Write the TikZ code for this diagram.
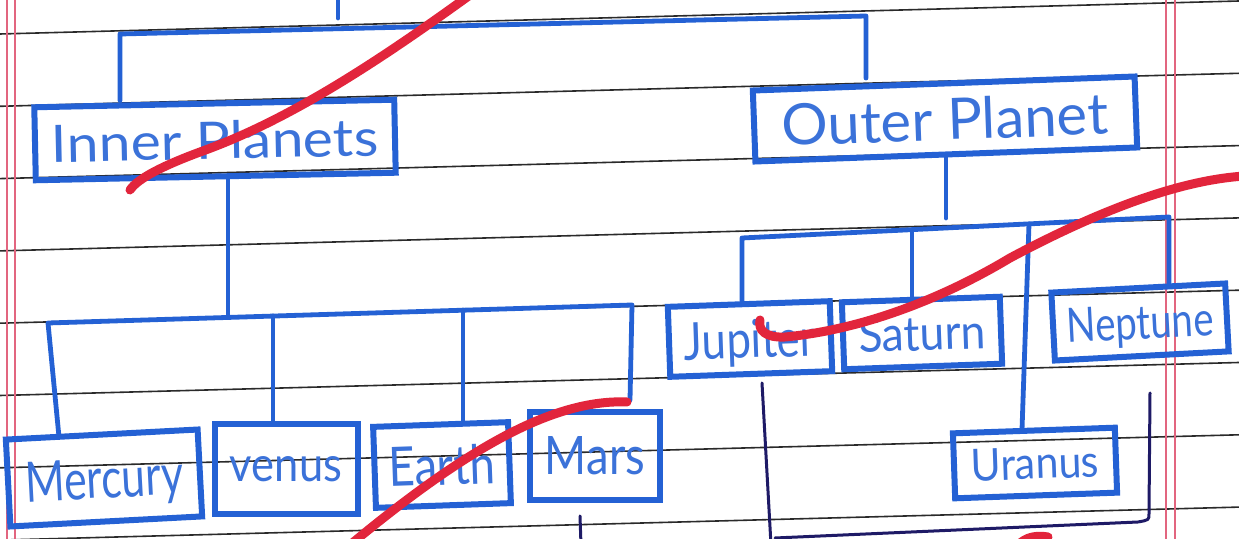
\documentclass[tikz,border=0pt]{standalone}
\usepackage{fontspec}
\setmainfont{Lato}
\usepackage{graphicx}
\definecolor{penblue}{HTML}{2461D4}
\definecolor{inkblue}{HTML}{3B72D9}
\definecolor{navy}{HTML}{1E1A66}
\definecolor{redpen}{HTML}{E2253C}
\definecolor{rule}{HTML}{2A2A2A}
\definecolor{margin}{HTML}{E2657F}
\newlength\upx
\setlength\upx{0.5pt}
\newcommand\hw[3]{\raisebox{0pt}[\height][0pt]{\resizebox{#1\upx}{#2\upx}{#3}}}
\tikzset{
  box/.style={draw=penblue, line width=3pt, rectangle, inner sep=0pt, text=inkblue},
  conn/.style={draw=penblue, line width=2.4pt, line cap=round, line join=round},
  bracket/.style={draw=navy, line width=1.5pt, line cap=round, line join=round},
  redstroke/.style={draw=redpen, line width=4.5pt, line cap=round, line join=round},
  ruling/.style={draw=rule, line width=0.8pt},
  marginline/.style={draw=margin, line width=0.6pt}
}
\begin{document}
\begin{tikzpicture}[x=0.5pt,y=-0.5pt]
\useasboundingbox (0,0) rectangle (1239,539);
\clip (0,0) rectangle (1239,539);
\fill[white] (0,0) rectangle (1239,539);
% ruled paper
\foreach \k in {0,...,7}{
  \draw[ruling] (0,{34+72.3*\k}) -- (1239,{1+72.3*\k});
}
\draw[marginline] (7,0) -- (7,539);
\draw[marginline] (15,0) -- (15,539);
\draw[marginline] (1166,0) -- (1166,539);
\draw[marginline] (1175,0) -- (1175,539);

% boxes
\node[box, minimum width=180pt, minimum height=36.5pt, rotate=1.2] (IP) at (215,140) {\hw{327}{38}{Inner Planets}};
\node[box, minimum width=191pt, minimum height=35.5pt, rotate=2.1] (OP) at (945,119) {\hw{326}{42}{Outer Planet}};
\node[box, minimum width=96pt, minimum height=43.5pt, rotate=3] (Me) at (104,478) {\raisebox{-6\upx}{\hw{158}{40}{Mercury}}};
\node[box, minimum width=71.5pt, minimum height=45pt, rotate=0] (Ve) at (286,469) {\hw{112}{25}{venus}};
\node[box, minimum width=67.5pt, minimum height=40.5pt, rotate=2] (Ea) at (442,465) {\hw{107}{40}{Earth}};
\node[box, minimum width=65pt, minimum height=44pt, rotate=0] (Ma) at (595,456) {\hw{100}{38}{Mars}};
\node[box, minimum width=81pt, minimum height=35pt, rotate=2] (Ju) at (750,339) {\hw{132}{38}{Jupiter}};
\node[box, minimum width=79pt, minimum height=33.5pt, rotate=2] (Sa) at (922,333) {\hw{127}{35}{Saturn}};
\node[box, minimum width=87pt, minimum height=34pt, rotate=3] (Ne) at (1140,322) {\hw{147}{34}{Neptune}};
\node[box, minimum width=81pt, minimum height=32.5pt, rotate=2] (Ur) at (1035,463) {\hw{128}{32}{Uranus}};

% top connectors
\coordinate (stubT) at (338,-5);
\coordinate (stubB) at (338,18);
\draw[conn] (stubT) -- (stubB);
\coordinate (tbL) at (120,34);
\coordinate (tbR) at (866,16);
\coordinate (tbRend) at (866,78);
\draw[conn] (IP.north -| tbL) -- (tbL) -- (tbR) -- (tbRend);

% inner planets connectors
\coordinate (ibT) at (228,317);
\draw[conn] (IP.south -| ibT) -- (ibT);
\coordinate (ibL) at (48,323);
\coordinate (ibR) at (632,305);
\coordinate (meT) at (59,437);
\coordinate (maT) at (630,400);
\draw[conn] (meT) -- (ibL) -- (ibR) -- (maT);
\coordinate (veB) at (273,316);
\draw[conn] (veB) -- (veB |- Ve.north);
\coordinate (eaB) at (463,310);
\draw[conn] (eaB) -- (eaB |- Ea.north);

% outer planet connectors
\coordinate (obT) at (946,218);
\draw[conn] (OP.south -| obT) -- (obT);
\coordinate (obL) at (742,238);
\coordinate (obR) at (1169,217);
\draw[conn] (Ju.north -| obL) -- (obL) -- (obR) -- (obR |- Ne.north);
\coordinate (saB) at (912,230);
\draw[conn] (saB) -- (saB |- Sa.north);
\coordinate (urB) at (1029,224);
\coordinate (urT) at (1022,430);
\draw[conn] (urB) -- (urT);

% navy pen bracket
\coordinate (bkA) at (762,383);
\coordinate (bkB) at (771,545);
\coordinate (bkC) at (1150,393);
\coordinate (bkD) at (1149,514);
\coordinate (bkE) at (1138,522);
\coordinate (bkF) at (775,538);
\draw[bracket] (bkA) -- (bkB);
\draw[bracket] (bkC) -- (bkD) .. controls (1149,520) .. (bkE) -- (bkF);
\coordinate (msA) at (580,516);
\coordinate (msB) at (581,545);
\draw[bracket] (msA) -- (msB);

% red strokes
\draw[redstroke] (470,-5) .. controls (380,60) and (290,120) .. (200,152)
  .. controls (165,165) and (138,178) .. (130,190);
\draw[redstroke] (1245,176) .. controls (1180,180) and (1100,210) .. (1010,258)
  .. controls (940,300) and (860,330) .. (785,337)
  .. controls (765,338) and (758,330) .. (760,320);
\draw[redstroke] (627,402) .. controls (580,400) and (530,420) .. (480,450)
  .. controls (430,480) and (380,520) .. (350,545);
\draw[redstroke] (1018,545) .. controls (1026,537) and (1036,535) .. (1048,537);
\end{tikzpicture}
\end{document}
